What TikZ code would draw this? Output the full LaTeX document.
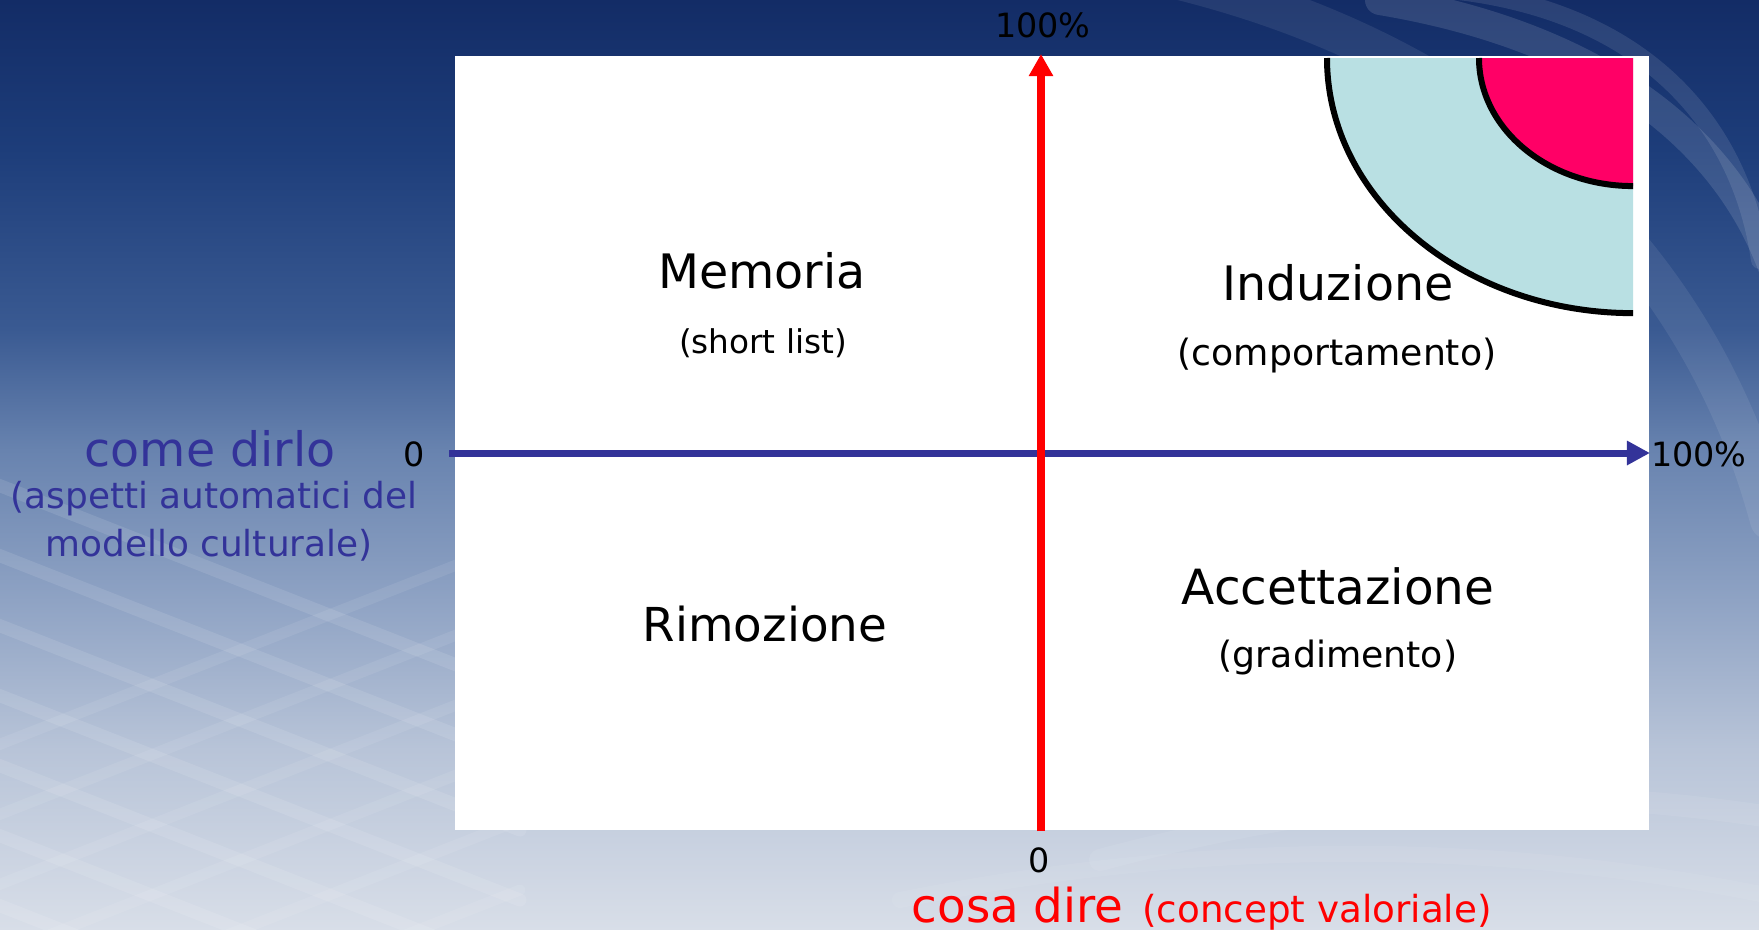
\documentclass[tikz,border=0pt]{standalone}
\usepackage{fontspec}
\setmainfont{DejaVu Sans}
\usetikzlibrary{arrows.meta}

\definecolor{axisblue}{HTML}{333399}
\definecolor{axisred}{HTML}{FF0000}
\definecolor{outerband}{HTML}{B9E0E3}
\definecolor{innercore}{HTML}{FF0066}
\definecolor{bgA}{HTML}{132C66}
\definecolor{bgB}{HTML}{1D3D7A}
\definecolor{bgC}{HTML}{3A5A92}
\definecolor{bgD}{HTML}{6883AF}
\definecolor{bgE}{HTML}{8FA3C4}
\definecolor{bgF}{HTML}{B8C4D8}
\definecolor{bgG}{HTML}{D8DEE8}

% background gradient; the visible part runs from 25bp (bottom) to 75bp (top)
\pgfdeclareverticalshading{slidebg}{100bp}{%
  color(0bp)=(bgG); color(25bp)=(bgG); color(34.7bp)=(bgF); color(42.7bp)=(bgE);
  color(50.8bp)=(bgD); color(57.3bp)=(bgC); color(67bp)=(bgB); color(75bp)=(bgA);
  color(100bp)=(bgA)}

\tikzset{
  quadtitle/.style={inner sep=0pt, font=\fontsize{13.5pt}{15pt}\selectfont, text=black},
  quadsub/.style={inner sep=0pt, font=\fontsize{10.3pt}{12pt}\selectfont, text=black},
  ticklabel/.style={inner sep=0pt, font=\fontsize{9.5pt}{11pt}\selectfont, text=black},
  bluelabel/.style={inner sep=0pt, text=axisblue},
  redlabel/.style={inner sep=0pt, text=axisred},
  swoosh/.style={white, line cap=round},
}

\begin{document}
\begin{tikzpicture}[x=0.01cm, y=-0.01cm]
  \useasboundingbox (0,0) rectangle (1759,930);

  % slide background
  \fill[shading=slidebg] (0,0) rectangle (1759,930);
  \begin{scope}
    \clip (0,0) rectangle (1759,930);
    % crossing light bands, lower left
    \foreach \d in {0,70,140,210,280,350,420}{
      \draw[swoosh, opacity=0.10, line width=0.13cm] (-40,470+\d) -- (520,690+\d);
      \draw[swoosh, opacity=0.08, line width=0.11cm] (-40,760+\d) -- (520,540+\d);
    }
    % curved light bands, upper right
    \draw[swoosh, opacity=0.12, line width=0.30cm] (1380,0) .. controls (1620,40) and (1760,160) .. (1790,330);
    \draw[swoosh, opacity=0.10, line width=0.18cm] (1450,-10) .. controls (1640,10) and (1740,120) .. (1760,260);
    \draw[swoosh, opacity=0.08, line width=0.40cm] (1180,-20) .. controls (1500,60) and (1700,260) .. (1770,520);
    % lower right soft bands
    \draw[swoosh, opacity=0.07, line width=0.22cm] (1100,860) .. controls (1400,780) and (1600,790) .. (1790,820);
    \draw[swoosh, opacity=0.06, line width=0.16cm] (900,900) .. controls (1300,820) and (1600,860) .. (1790,900);
  \end{scope}

  % plot area
  \node[fill=white, inner sep=0pt, minimum width=11.94cm, minimum height=7.74cm, anchor=north west] (panel) at (454,55) {};

  % nested target regions in the upper right corner
  \coordinate (corner) at (1633,58);
  \fill[outerband] (corner) -- (1327,58) arc[start angle=180, end angle=270, x radius=3.06cm, y radius=2.55cm] -- cycle;
  \draw[line width=0.06cm] (1327,58) arc[start angle=180, end angle=270, x radius=3.06cm, y radius=2.55cm];
  \fill[innercore] (corner) -- (1479,58) arc[start angle=180, end angle=270, x radius=1.54cm, y radius=1.28cm] -- cycle;
  \draw[line width=0.06cm] (1479,58) arc[start angle=180, end angle=270, x radius=1.54cm, y radius=1.28cm];

  % axes
  \coordinate (xstart) at (449,453);
  \coordinate (xend) at (1650,453);
  \coordinate (ystart) at (1041,831);
  \coordinate (yend) at (1041,54);
  \draw[axisblue, line width=0.07cm, -{Triangle[length=0.23cm, width=0.23cm]}] (xstart) -- (xend);
  \draw[axisred, line width=0.08cm, -{Triangle[length=0.22cm, width=0.23cm]}] (ystart) -- (yend);

  % tick labels
  \node[ticklabel] (ytop) at (1043,25) {100\%};
  \node[ticklabel] (xright) at (1699,454) {100\%};
  \node[ticklabel] (xzero) at (414,454) {0};
  \node[ticklabel] (yzero) at (1039,860) {0};

  % quadrant labels
  \node[quadtitle] (mem) at (762,271) {Memoria};
  \node[quadsub, font=\fontsize{9.3pt}{11pt}\selectfont] (memsub) at (763,343) {(short list)};
  \node[quadtitle] (ind) at (1338,283) {Induzione};
  \node[quadsub] (indsub) at (1337,356) {(comportamento)};
  \node[quadtitle, font=\fontsize{13.3pt}{15pt}\selectfont] (rim) at (765,624) {Rimozione};
  \node[quadtitle, font=\fontsize{13.8pt}{15pt}\selectfont] (acc) at (1338,586) {Accettazione};
  \node[quadsub] (accsub) at (1338,658) {(gradimento)};

  % horizontal axis caption
  \node[bluelabel, font=\fontsize{13.5pt}{15pt}\selectfont] (hcap) at (210,449) {come dirlo};
  \node[bluelabel, font=\fontsize{10.2pt}{12pt}\selectfont] (hsub1) at (214,499) {(aspetti automatici del};
  \node[bluelabel, font=\fontsize{10.2pt}{12pt}\selectfont] (hsub2) at (209,545) {modello culturale)};

  % vertical axis caption
  \node[redlabel, anchor=base west, font=\fontsize{13.3pt}{15pt}\selectfont] (vcap) at (911,922) {cosa dire\hspace{0.4em}\fontsize{10.6pt}{12pt}\selectfont(concept valoriale)};
\end{tikzpicture}
\end{document}
